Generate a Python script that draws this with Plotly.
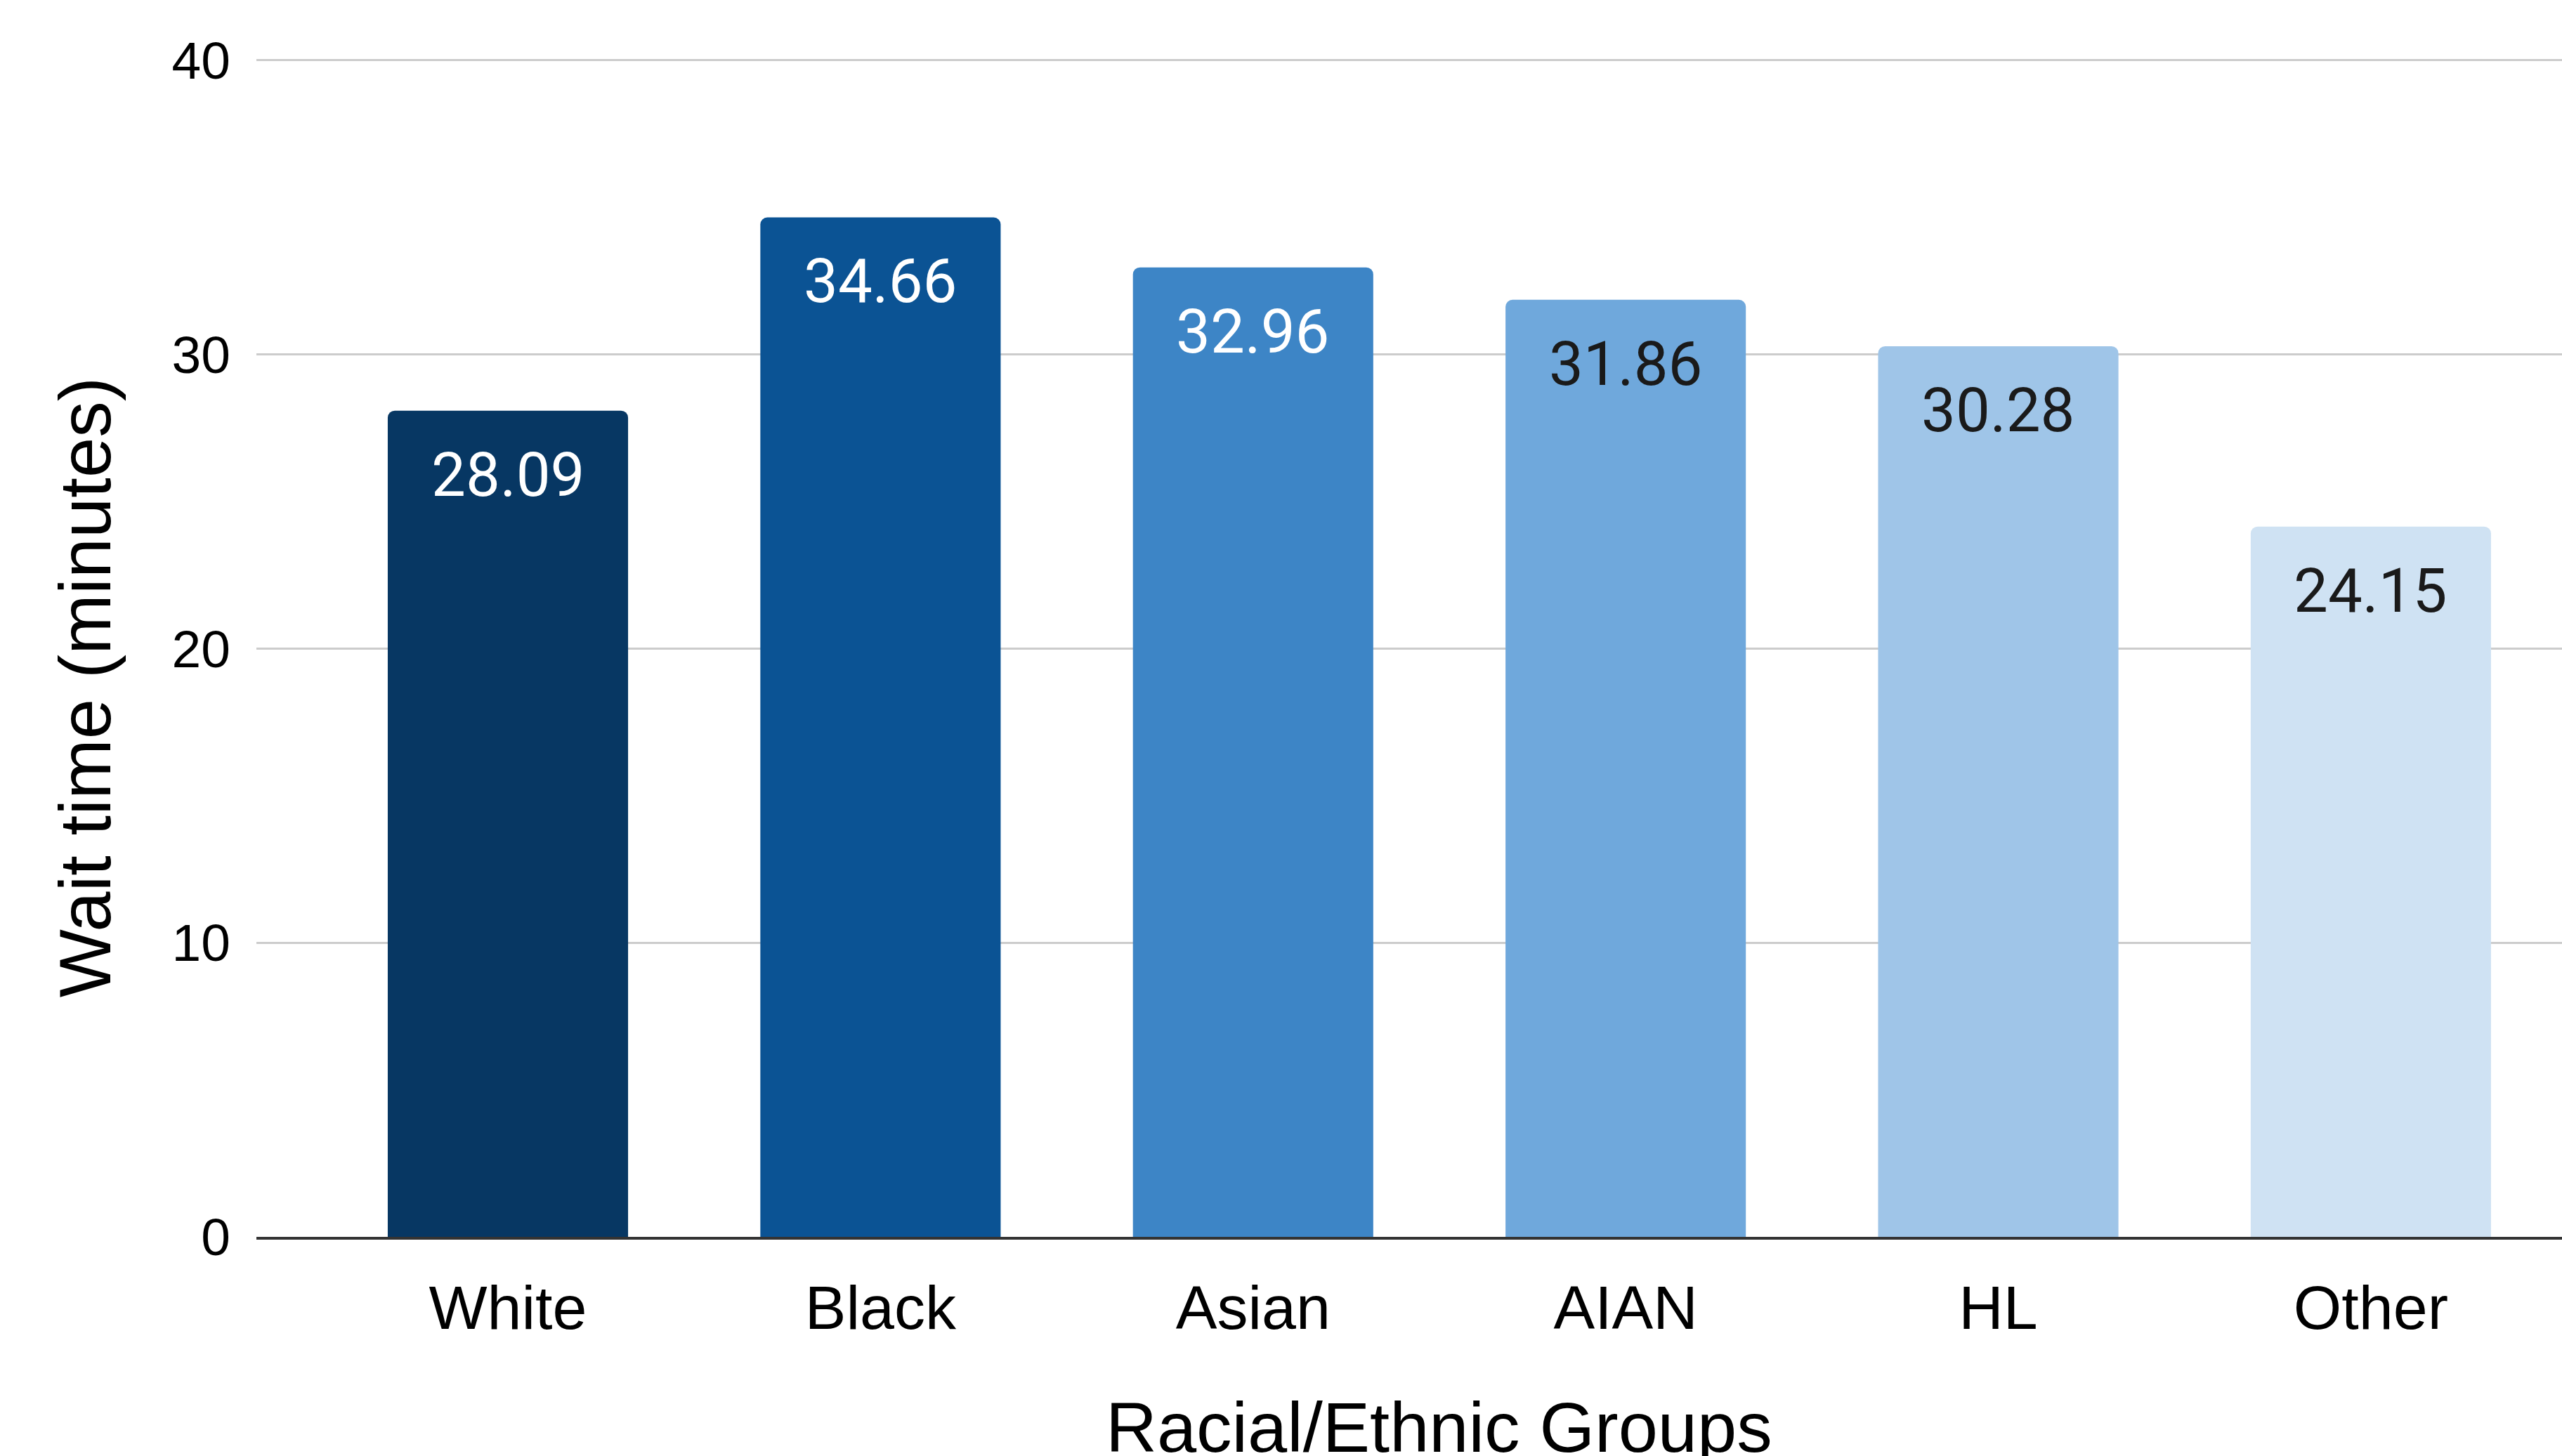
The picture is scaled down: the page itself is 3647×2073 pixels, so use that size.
import plotly.graph_objects as go

groups = ["White", "Black", "Asian", "AIAN", "HL", "Other"]
wait_minutes = [28.09, 34.66, 32.96, 31.86, 30.28, 24.15]
bar_colors = ["#073763", "#0b5394", "#3d85c6", "#6fa8dc", "#9fc5e8", "#cfe2f3"]
label_colors = ["#ffffff", "#ffffff", "#ffffff", "#1a1a1a", "#1a1a1a", "#1a1a1a"]
y_ticks = [0, 10, 20, 30, 40]
x_title = "Racial/Ethnic Groups"
y_title = "Wait time (minutes)"

W, H = 3647, 2073
fig = go.Figure()
fig.add_trace(go.Bar(
    x=list(range(len(groups))), y=wait_minutes,
    marker=dict(color=bar_colors, line=dict(width=0), cornerradius=10),
    hoverinfo="skip", showlegend=False,
))

for i, v in enumerate(wait_minutes):
    fig.add_annotation(x=i, y=v, xref="x", yref="y", text=f"{v:.2f}",
                       showarrow=False, yanchor="top", yshift=-38,
                       font=dict(family="Roboto", size=87, color=label_colors[i]))

fig.add_annotation(xref="paper", yref="paper", x=-0.0743, y=0.444,
                   text=y_title, textangle=-90, showarrow=False,
                   xanchor="center", yanchor="middle",
                   font=dict(family="Liberation Sans", size=103, color="#000000"))
fig.add_annotation(xref="paper", yref="paper", x=0.513, y=-0.121,
                   text=x_title, showarrow=False,
                   xanchor="center", yanchor="top",
                   font=dict(family="Liberation Sans", size=101, color="#000000"))

fig.update_layout(
    width=W, height=H,
    margin=dict(l=365, r=0, t=0, b=H - 1761),
    paper_bgcolor="white", plot_bgcolor="white",
    bargap=0.355,
    xaxis=dict(
        range=[-0.675, 5.513], tickmode="array",
        tickvals=list(range(len(groups))), ticktext=groups,
        showgrid=False, zeroline=False,
        showline=True, linecolor="#333333", linewidth=4,
        ticks="", ticklabelstandoff=21,
        tickfont=dict(family="Liberation Sans", size=88, color="#000000"),
    ),
    yaxis=dict(
        range=[0, 42.05], tickmode="array", tickvals=y_ticks,
        ticktext=[str(t) for t in y_ticks],
        showgrid=True, gridcolor="#cccccc", gridwidth=3,
        zeroline=False, showline=False, ticks="", ticklabelstandoff=36,
        tickfont=dict(family="Liberation Sans", size=75, color="#000000"),
    ),
)

fig.write_html("out.html")
